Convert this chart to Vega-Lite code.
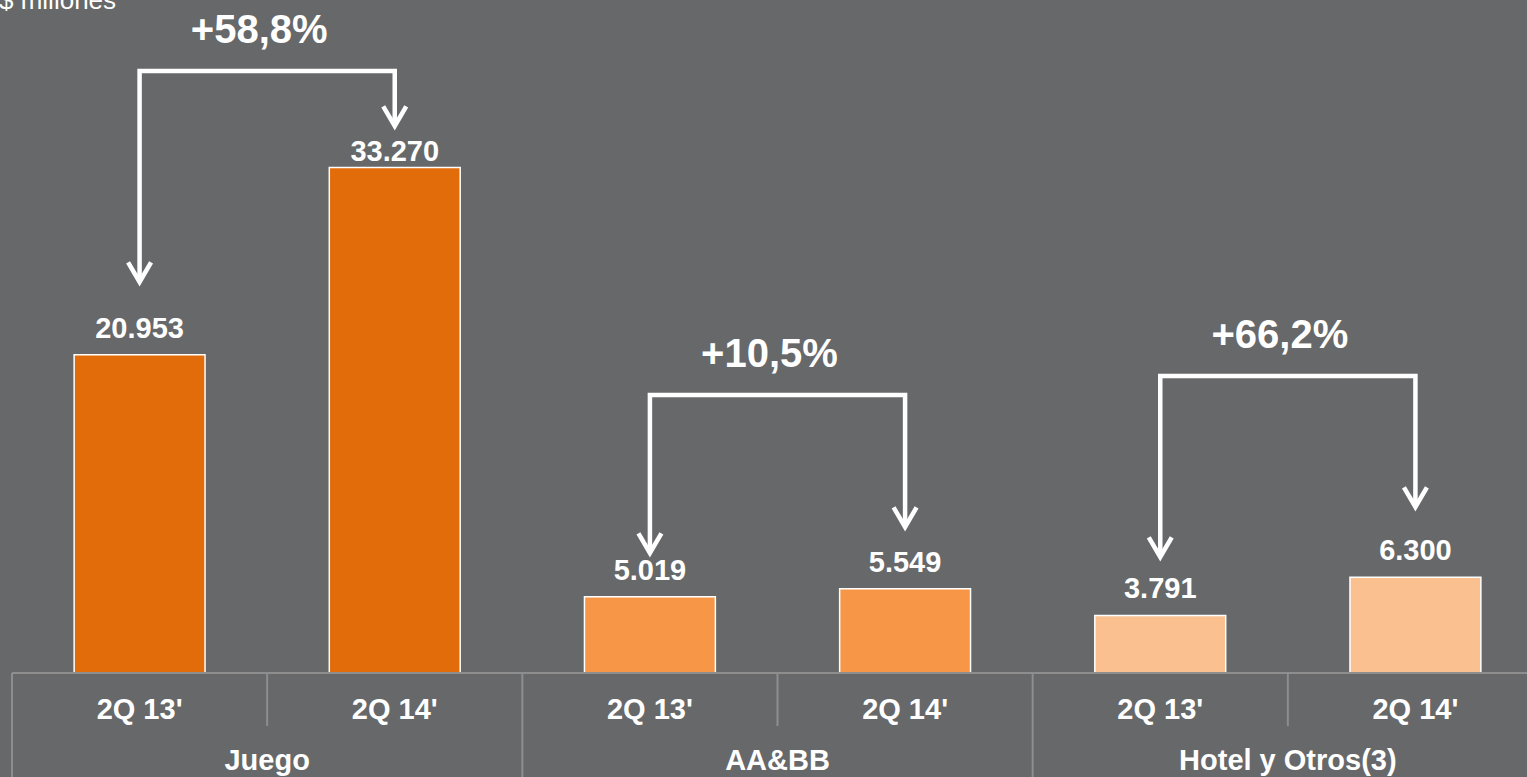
{
  "$schema": "https://vega.github.io/schema/vega-lite/v6.json",
  "autosize": "none",
  "padding": {"left": 12, "top": 0, "right": 0, "bottom": 0},
  "background": "#67686a",
  "width": 1515,
  "height": 777,
  "config": {
    "view": {"stroke": null},
    "axis": {"disable": true},
    "legend": {"disable": true},
    "font": "Liberation Sans",
    "locale": {"number": {"decimal": ",", "thousands": ".", "grouping": [3], "currency": ["$", ""]}}
  },
  "datasets": {
    "barras": [
      {"barra": "Juego 2Q 13'", "segmento": "Juego", "periodo": "2Q 13'", "valor": 20953},
      {"barra": "Juego 2Q 14'", "segmento": "Juego", "periodo": "2Q 14'", "valor": 33270},
      {"barra": "AA&BB 2Q 13'", "segmento": "AA&BB", "periodo": "2Q 13'", "valor": 5019},
      {"barra": "AA&BB 2Q 14'", "segmento": "AA&BB", "periodo": "2Q 14'", "valor": 5549},
      {"barra": "Hotel 2Q 13'", "segmento": "Hotel y Otros(3)", "periodo": "2Q 13'", "valor": 3791},
      {"barra": "Hotel 2Q 14'", "segmento": "Hotel y Otros(3)", "periodo": "2Q 14'", "valor": 6300}
    ],
    "flechas": [
      {"segmento": "Juego", "barra": "Juego 2Q 13'", "nivel": 25738, "orden": 1},
      {"segmento": "Juego", "barra": "Juego 2Q 13'", "nivel": 39627, "orden": 2},
      {"segmento": "Juego", "barra": "Juego 2Q 14'", "nivel": 39627, "orden": 3},
      {"segmento": "Juego", "barra": "Juego 2Q 14'", "nivel": 36006, "orden": 4},
      {"segmento": "AA&BB", "barra": "AA&BB 2Q 13'", "nivel": 7899, "orden": 1},
      {"segmento": "AA&BB", "barra": "AA&BB 2Q 13'", "nivel": 18299, "orden": 2},
      {"segmento": "AA&BB", "barra": "AA&BB 2Q 14'", "nivel": 18299, "orden": 3},
      {"segmento": "AA&BB", "barra": "AA&BB 2Q 14'", "nivel": 9610, "orden": 4},
      {"segmento": "Hotel y Otros(3)", "barra": "Hotel 2Q 13'", "nivel": 7636, "orden": 1},
      {"segmento": "Hotel y Otros(3)", "barra": "Hotel 2Q 13'", "nivel": 19550, "orden": 2},
      {"segmento": "Hotel y Otros(3)", "barra": "Hotel 2Q 14'", "nivel": 19550, "orden": 3},
      {"segmento": "Hotel y Otros(3)", "barra": "Hotel 2Q 14'", "nivel": 10927, "orden": 4}
    ],
    "cambios": [
      {"segmento": "Juego", "barra": "Juego 2Q 14'", "texto": "+58,8%", "nivel": 39627},
      {"segmento": "AA&BB", "barra": "AA&BB 2Q 14'", "texto": "+10,5%", "nivel": 18299},
      {"segmento": "Hotel y Otros(3)", "barra": "Hotel 2Q 14'", "texto": "+66,2%", "nivel": 19550}
    ]
  },
  "layer": [
    {
      "data": {"name": "barras"},
      "mark": {"type": "bar", "width": {"band": 0.513}, "stroke": "#ffffff", "strokeWidth": 1.5},
      "encoding": {
        "x": {"field": "barra", "type": "nominal", "sort": null,
              "scale": {"type": "band", "domain": ["Juego 2Q 13'", "Juego 2Q 14'", "AA&BB 2Q 13'", "AA&BB 2Q 14'", "Hotel 2Q 13'", "Hotel 2Q 14'"], "range": [0, 1531], "paddingInner": 0, "paddingOuter": 0}},
        "y": {"field": "valor", "type": "quantitative", "scale": {"domain": [-6846, 44300], "nice": false, "zero": false}},
        "y2": {"datum": 0},
        "color": {"field": "segmento", "type": "nominal",
                  "scale": {"domain": ["Juego", "AA&BB", "Hotel y Otros(3)"], "range": ["#e36c0a", "#f79646", "#fac090"]}}
      }
    },
    {
      "data": {"values": [{"linea": "base"}]},
      "mark": {"type": "rule", "color": "#8e8e8e", "strokeWidth": 2},
      "encoding": {
        "y": {"datum": 0, "type": "quantitative"}
      }
    },
    {
      "data": {"name": "barras"},
      "transform": [{"filter": "datum.periodo == \"2Q 14'\""}],
      "mark": {"type": "rule", "color": "#8e8e8e", "strokeWidth": 2},
      "encoding": {
        "x": {"field": "barra", "type": "nominal", "bandPosition": 0},
        "y": {"datum": 0, "type": "quantitative"},
        "y2": {"datum": -3489}
      }
    },
    {
      "data": {"name": "barras"},
      "transform": [{"filter": "datum.periodo == \"2Q 13'\""}],
      "mark": {"type": "rule", "color": "#8e8e8e", "strokeWidth": 2},
      "encoding": {
        "x": {"field": "barra", "type": "nominal", "bandPosition": 0},
        "y": {"datum": 0, "type": "quantitative"},
        "y2": {"datum": -6846}
      }
    },
    {
      "data": {"name": "barras"},
      "mark": {"type": "text", "baseline": "alphabetic", "align": "center", "fontSize": 29, "fontWeight": "bold", "color": "#ffffff"},
      "encoding": {
        "x": {"field": "barra", "type": "nominal"},
        "y": {"datum": -3028, "type": "quantitative"},
        "text": {"field": "periodo"}
      }
    },
    {
      "data": {"name": "barras"},
      "transform": [{"filter": "datum.periodo == \"2Q 14'\""}],
      "mark": {"type": "text", "baseline": "alphabetic", "align": "center", "fontSize": 29, "fontWeight": "bold", "color": "#ffffff"},
      "encoding": {
        "x": {"field": "barra", "type": "nominal", "bandPosition": 0},
        "y": {"datum": -6385, "type": "quantitative"},
        "text": {"field": "segmento"}
      }
    },
    {
      "data": {"name": "barras"},
      "transform": [{"filter": "datum.valor < 30000"}],
      "mark": {"type": "text", "baseline": "alphabetic", "align": "center", "dy": -17, "fontSize": 29, "fontWeight": "bold", "color": "#ffffff"},
      "encoding": {
        "x": {"field": "barra", "type": "nominal"},
        "y": {"field": "valor", "type": "quantitative"},
        "text": {"field": "valor", "type": "quantitative", "format": ",d"}
      }
    },
    {
      "data": {"name": "barras"},
      "transform": [{"filter": "datum.valor >= 30000"}],
      "mark": {"type": "text", "baseline": "alphabetic", "align": "center", "dy": -7, "fontSize": 29, "fontWeight": "bold", "color": "#ffffff"},
      "encoding": {
        "x": {"field": "barra", "type": "nominal"},
        "y": {"field": "valor", "type": "quantitative"},
        "text": {"field": "valor", "type": "quantitative", "format": ",d"}
      }
    },
    {
      "data": {"name": "flechas"},
      "mark": {"type": "line", "color": "#ffffff", "strokeWidth": 4.5, "strokeCap": "butt", "strokeJoin": "miter"},
      "encoding": {
        "x": {"field": "barra", "type": "nominal"},
        "y": {"field": "nivel", "type": "quantitative"},
        "detail": {"field": "segmento"},
        "order": {"field": "orden", "type": "quantitative"}
      }
    },
    {
      "data": {"name": "flechas"},
      "transform": [{"filter": "datum.orden == 1 || datum.orden == 4"}],
      "mark": {"type": "point", "shape": "M-1,-1.7L0,0L1,-1.7", "size": 529, "filled": false, "stroke": "#ffffff", "strokeWidth": 4.5, "strokeJoin": "miter", "opacity": 1},
      "encoding": {
        "x": {"field": "barra", "type": "nominal"},
        "y": {"field": "nivel", "type": "quantitative"}
      }
    },
    {
      "data": {"name": "cambios"},
      "mark": {"type": "text", "baseline": "alphabetic", "align": "center", "dy": -28, "dx": -8, "fontSize": 40, "fontWeight": "bold", "color": "#ffffff"},
      "encoding": {
        "x": {"field": "barra", "type": "nominal", "bandPosition": 0},
        "y": {"field": "nivel", "type": "quantitative"},
        "text": {"field": "texto"}
      }
    },
    {
      "data": {"values": [{"texto": "$ millones"}]},
      "mark": {"type": "text", "baseline": "alphabetic", "align": "left", "dx": -13, "fontSize": 26, "color": "#ffffff"},
      "encoding": {
        "x": {"datum": "Juego 2Q 13'", "type": "nominal", "bandPosition": 0},
        "y": {"datum": 43708, "type": "quantitative"},
        "text": {"field": "texto"}
      }
    }
  ]
}
